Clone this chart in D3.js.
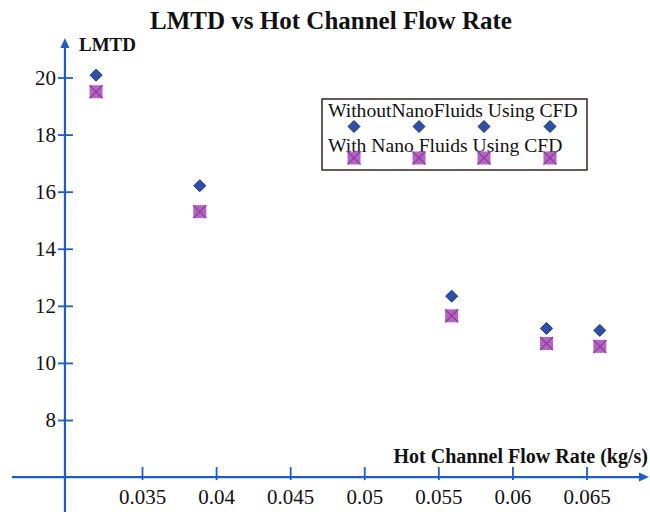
<!DOCTYPE html>
<html>
<head>
<meta charset="utf-8">
<script src="https://cdn.jsdelivr.net/npm/d3@7"></script>
<style>
  html, body { margin: 0; padding: 0; background: #fff; }
  svg { display: block; }
  text { font-family: "Liberation Serif", "Times New Roman", serif; fill: #111; }
</style>
</head>
<body>
<div id="chart"></div>
<script>
// ---- data ----
const title = "LMTD vs Hot Channel Flow Rate";
const xLabel = "Hot Channel Flow Rate (kg/s)";
const yLabel = "LMTD";
const flowRate = [0.0319, 0.0389, 0.0559, 0.0623, 0.0659];
const withoutNano = [20.08, 16.21, 12.34, 11.21, 11.14];
const withNano = [19.5, 15.3, 11.65, 10.68, 10.58];
const seriesNames = ["WithoutNanoFluids Using CFD", "With Nano Fluids Using CFD"];
const xTicks = [0.035, 0.04, 0.045, 0.05, 0.055, 0.06, 0.065];
const xTickLabels = ["0.035", "0.04", "0.045", "0.05", "0.055", "0.06", "0.065"];
const yTicks = [8, 10, 12, 14, 16, 18, 20];

// ---- layout ----
const W = 650, H = 512;
const axisColor = "#1e5cc8";
const svg = d3.select("#chart").append("svg").attr("width", W).attr("height", H);

const x = d3.scaleLinear().domain([0.035, 0.065]).range([142, 586.5]);
const y = d3.scaleLinear().domain([8, 20]).range([420, 77.5]);
const xOrigin = 0.0298, yOrigin = 6;
const x0 = x(xOrigin), y0 = y(yOrigin);

// title
svg.append("text").attr("x", 331).attr("y", 29).attr("text-anchor", "middle")
  .attr("font-size", 25).attr("font-weight", "bold").text(title);

// axes lines
svg.append("line").attr("x1", 12).attr("x2", 642).attr("y1", y0).attr("y2", y0)
  .attr("stroke", axisColor).attr("stroke-width", 2.2);
svg.append("path").attr("d", `M649,${y0} L639,${y0-4.5} L639,${y0+4.5} Z`).attr("fill", axisColor);
svg.append("line").attr("x1", x0).attr("x2", x0).attr("y1", 46).attr("y2", H)
  .attr("stroke", axisColor).attr("stroke-width", 2.2);
svg.append("path").attr("d", `M${x0},38 L${x0-4.5},48 L${x0+4.5},48 Z`).attr("fill", axisColor);

// x axis ticks via d3 axis
const xAxis = d3.axisBottom(x).tickValues(xTicks)
  .tickFormat((d, i) => xTickLabels[i]).tickSize(0).tickPadding(0);
const gx = svg.append("g").attr("transform", `translate(0,${y0})`).call(xAxis);
gx.select(".domain").remove();
gx.selectAll(".tick line").attr("y1", -10).attr("y2", 3)
  .attr("stroke", axisColor).attr("stroke-width", 1.8);
gx.selectAll(".tick text").attr("font-size", 21).attr("y", 27).attr("dy", null)
  .attr("font-family", "Liberation Serif, serif").attr("fill", "#111");

// y axis ticks
const yAxis = d3.axisLeft(y).tickValues(yTicks).tickSize(0).tickPadding(0);
const gy = svg.append("g").attr("transform", `translate(${x0},0)`).call(yAxis);
gy.select(".domain").remove();
gy.selectAll(".tick line").attr("x1", -7).attr("x2", 8)
  .attr("stroke", axisColor).attr("stroke-width", 1.8);
gy.selectAll(".tick text").attr("font-size", 21).attr("x", -9).attr("dy", "0.33em")
  .attr("font-family", "Liberation Serif, serif").attr("fill", "#111");

// axis labels
svg.append("text").attr("x", 79).attr("y", 51).attr("font-size", 19).attr("font-weight", "bold").text(yLabel);
svg.append("text").attr("x", 648).attr("y", 463).attr("text-anchor", "end")
  .attr("font-size", 20).attr("font-weight", "bold").text(xLabel);

// markers
const diamondFill = "#2d50a6", diamondStroke = "#1b3380";
const squareFill = "#b763c3", squareStroke = "#86409e";
function drawDiamond(g, cx, cy) {
  const r = 6;
  g.append("path").attr("d", `M${cx},${cy-r} L${cx+r},${cy} L${cx},${cy+r} L${cx-r},${cy} Z`)
    .attr("fill", diamondFill).attr("stroke", diamondStroke).attr("stroke-width", 1);
}
function drawSquare(g, cx, cy) {
  const s = 6.5;
  g.append("rect").attr("x", cx - s).attr("y", cy - s).attr("width", 2*s).attr("height", 2*s)
    .attr("fill", squareFill);
  g.append("path").attr("d", `M${cx-s},${cy-s} L${cx+s},${cy+s} M${cx+s},${cy-s} L${cx-s},${cy+s}`)
    .attr("stroke", squareStroke).attr("stroke-width", 1.3);
}
const pts = svg.append("g");
flowRate.forEach((fr, i) => {
  drawSquare(pts, x(fr), y(withNano[i]));
  drawDiamond(pts, x(fr), y(withoutNano[i]));
});

// legend
const leg = svg.append("g");
leg.append("rect").attr("x", 322).attr("y", 99).attr("width", 265).attr("height", 71)
  .attr("fill", "#fff").attr("stroke", "#3a2020").attr("stroke-width", 1.5);
leg.append("text").attr("x", 328).attr("y", 117).attr("font-size", 19.6).text(seriesNames[0]);
leg.append("text").attr("x", 328).attr("y", 152).attr("font-size", 19.6).text(seriesNames[1]);
const legX = [354, 419, 484, 550];
legX.forEach(lx => drawDiamond(leg, lx, 126.5));
legX.forEach(lx => drawSquare(leg, lx, 158));
</script>
</body>
</html>
